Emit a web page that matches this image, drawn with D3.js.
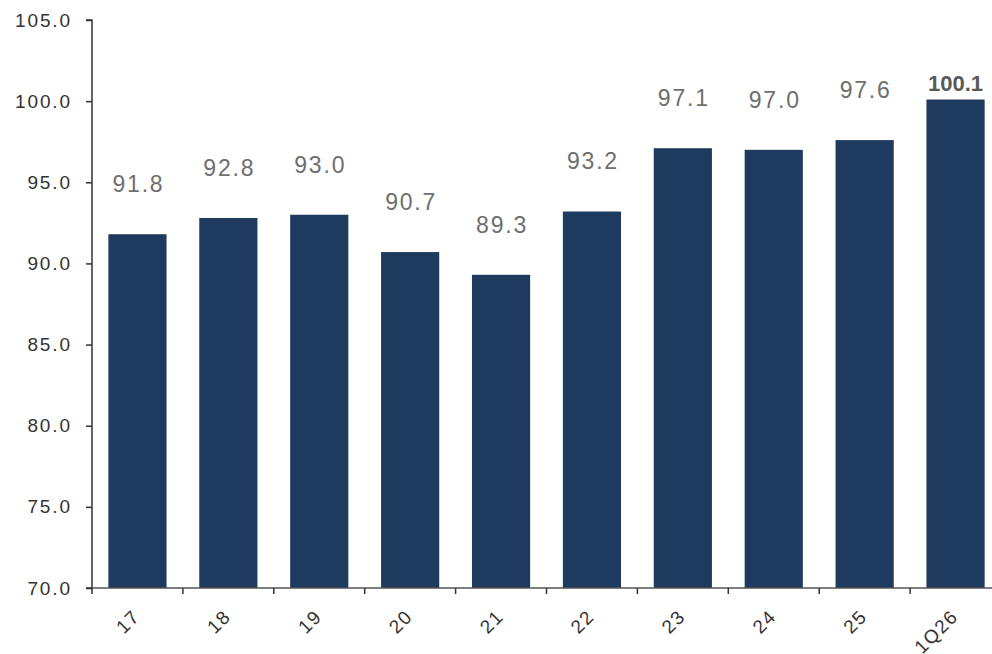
<!DOCTYPE html>
<html>
<head>
<meta charset="utf-8">
<script src="https://cdn.jsdelivr.net/npm/d3@7"></script>
<style>
  html, body { margin: 0; padding: 0; background: #fff; }
  svg { display: block; font-family: "Liberation Sans", Arial, sans-serif; }
</style>
</head>
<body>
<svg id="chart" width="992" height="654"></svg>
<script>
const categories = ["17", "18", "19", "20", "21", "22", "23", "24", "25", "1Q26"];
const values = [91.8, 92.8, 93.0, 90.7, 89.3, 93.2, 97.1, 97.0, 97.6, 100.1];
const yTicks = [70, 75, 80, 85, 90, 95, 100, 105];
const highlighted = "1Q26";

const svg = d3.select("#chart");
const plotLeft = 92, plotTop = 20, plotBottom = 588, plotRight = 1001;

const x = d3.scaleBand().domain(categories).range([plotLeft, plotRight]).paddingInner(0.36).paddingOuter(0.18);
const y = d3.scaleLinear().domain([70, 105]).range([plotBottom, plotTop]);
const gap = (x.step() - x.bandwidth()) / 2;

// bars
svg.append("g").selectAll("rect").data(categories).join("rect")
  .attr("x", d => x(d))
  .attr("width", x.bandwidth())
  .attr("y", (d, i) => y(values[i]))
  .attr("height", (d, i) => plotBottom - y(values[i]))
  .attr("fill", "#1f3a5f");

// value labels
svg.append("g").selectAll("text").data(categories).join("text")
  .attr("x", d => x(d) + x.bandwidth() / 2 + (d === highlighted ? 0 : 1))
  .attr("y", (d, i) => d === highlighted ? y(values[i]) - 9 : y(values[i]) - 42)
  .attr("text-anchor", "middle")
  .attr("font-size", d => d === highlighted ? 22 : 23)
  .attr("letter-spacing", d => d === highlighted ? 0 : 1.8)
  .attr("font-weight", d => d === highlighted ? "bold" : "normal")
  .attr("fill", d => d === highlighted ? "#595959" : "#6e6e6e")
  .text((d, i) => values[i].toFixed(1));

// y axis
const yAxis = d3.axisLeft(y).tickValues(yTicks).tickFormat(d3.format(".1f")).tickSize(6).tickPadding(14);
const gy = svg.append("g").attr("transform", `translate(${plotLeft},0)`).call(yAxis);
gy.select(".domain").attr("stroke", "#333").attr("stroke-width", 1.5).attr("d", `M-6,${plotTop}H0V${plotBottom}H-6`);
gy.selectAll(".tick line").attr("stroke", "#333").attr("stroke-width", 1.5);
gy.selectAll(".tick text").attr("font-size", 19).attr("letter-spacing", 1.9).attr("fill", "#333")
  .attr("font-family", "Liberation Sans, Arial, sans-serif");

// x axis with ticks at band boundaries
const gx = svg.append("g").attr("transform", `translate(0,${plotBottom})`);
gx.append("line").attr("x1", plotLeft).attr("x2", plotRight).attr("stroke", "#555").attr("stroke-width", 1.5);
gx.selectAll("line.tk").data(categories).join("line").attr("class", "tk")
  .attr("x1", d => x(d) - gap)
  .attr("x2", d => x(d) - gap)
  .attr("y1", 0).attr("y2", 6)
  .attr("stroke", "#333").attr("stroke-width", 1.5);
gx.selectAll("text").data(categories).join("text")
  .attr("transform", d => `translate(${x(d) + x.bandwidth() / 2 - 1},${25}) rotate(-45)`)
  .attr("text-anchor", "end")
  .attr("dy", "0.35em")
  .attr("font-size", 19)
  .attr("letter-spacing", 1.5)
  .attr("fill", "#333")
  .text(d => d);
</script>
</body>
</html>
